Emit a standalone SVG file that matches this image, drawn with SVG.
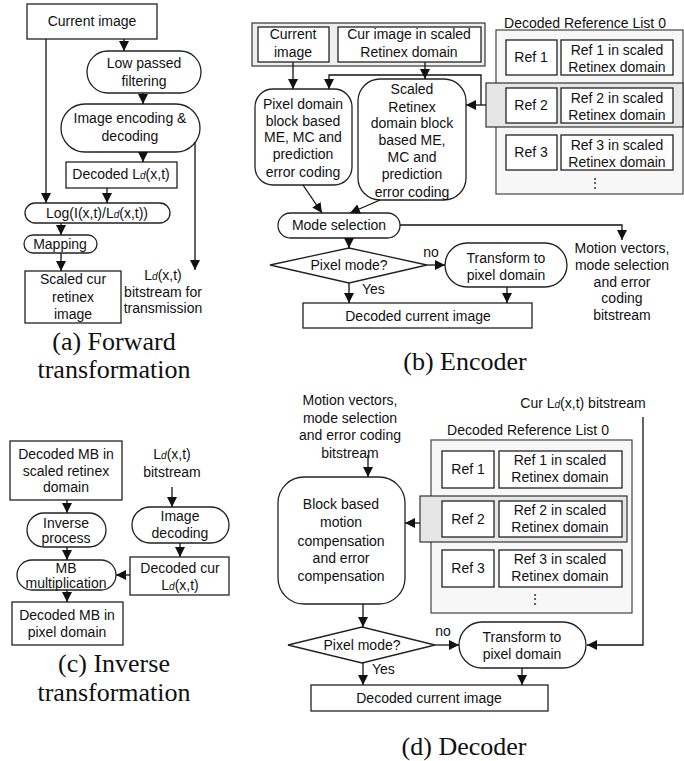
<svg xmlns="http://www.w3.org/2000/svg" width="684" height="761" viewBox="0 0 684 761">
<style>
.n{fill:#fff;stroke:#222;stroke-width:1.3}
.g1{fill:#efefef;stroke:#333;stroke-width:1.2}
.g2{fill:#f7f7f7;stroke:#444;stroke-width:1.2}
.g3{fill:#e6e6e6;stroke:#333;stroke-width:1.2}
text{font-family:"Liberation Sans",Arial,sans-serif;font-size:14px;fill:#111;text-anchor:middle}
text.l{text-anchor:start}
text.cap{font-family:"Liberation Serif","Times New Roman",serif;font-size:26px}
.s{font-size:10px;font-style:italic}
#conn path,#conn line{fill:none;stroke:#111;stroke-width:1.3}
.a{marker-end:url(#ah)}
</style>
<defs>
<marker id="ah" markerWidth="10" markerHeight="10" refX="10" refY="5" orient="auto" markerUnits="userSpaceOnUse">
<path d="M0,0 L10,5 L0,10 z" fill="#111"/>
</marker>
</defs>

<!-- Panel (a) -->
<g id="a-current"><rect class="n" x="27" y="4" width="130" height="35"/><text x="92" y="26">Current image</text></g>
<g id="a-lowpass"><rect class="n" x="87" y="51" width="114" height="42" rx="21"/><text x="144" y="68">Low passed</text><text x="144" y="86">filtering</text></g>
<g id="a-encdec"><rect class="n" x="61" y="104" width="139" height="48" rx="24"/><text x="130" y="123">Image encoding &amp;</text><text x="130" y="141">decoding</text></g>
<g id="a-decoded"><rect class="n" x="66" y="162" width="111" height="26"/><text x="121" y="179">Decoded L<tspan class="s">d</tspan>(x,t)</text></g>
<g id="a-log"><rect class="n" x="25" y="203" width="145" height="20" rx="10"/><text x="97" y="218">Log(I(x,t)/L<tspan class="s">d</tspan>(x,t))</text></g>
<g id="a-mapping"><rect class="n" x="24" y="235" width="73" height="18" rx="9"/><text x="60" y="249">Mapping</text></g>
<g id="a-scaled"><rect class="n" x="25" y="271" width="96" height="52"/><text x="73" y="284">Scaled cur</text><text x="73" y="302">retinex</text><text x="73" y="319">image</text></g>
<g id="a-bitstream"><text x="163" y="280">L<tspan class="s">d</tspan>(x,t)</text><text x="163" y="297">bitstream for</text><text x="163" y="313">transmission</text></g>
<text class="cap" x="114" y="350">(a) Forward</text>
<text class="cap" x="114" y="378">transformation</text>

<!-- Panel (b) -->
<g id="b-input"><rect class="g1" x="252" y="23" width="233" height="43"/>
<rect class="n" x="258" y="27" width="71" height="35"/><text x="293" y="39">Current</text><text x="293" y="57">image</text>
<rect class="n" x="338" y="27" width="143" height="35"/><text x="409" y="39">Cur image in scaled</text><text x="409" y="57">Retinex domain</text></g>
<g id="b-pixel"><rect class="n" x="255" y="89" width="97" height="96" rx="18"/><text x="303" y="109">Pixel domain</text><text x="303" y="126">block based</text><text x="303" y="142">ME, MC and</text><text x="303" y="159">prediction</text><text x="303" y="177">error coding</text></g>
<g id="b-retinex"><rect class="n" x="358" y="79" width="108" height="121" rx="22"/><text x="412" y="94">Scaled</text><text x="412" y="112">Retinex</text><text x="412" y="128">domain block</text><text x="412" y="145">based ME,</text><text x="412" y="162">MC and</text><text x="412" y="179">prediction</text><text x="412" y="197">error coding</text></g>
<g id="b-mode"><rect class="n" x="278" y="213" width="122" height="25" rx="12.5"/><text x="339" y="230">Mode selection</text></g>
<g id="b-pixmode"><polygon class="n" points="270,265 349,248 427,265 349,283"/><text x="349" y="270">Pixel mode?</text></g>
<g id="b-transform"><rect class="n" x="445" y="243" width="122" height="44" rx="22"/><text x="506" y="263">Transform to</text><text x="506" y="280">pixel domain</text></g>
<g id="b-out"><rect class="n" x="303" y="303" width="229" height="25"/><text x="418" y="321">Decoded current image</text></g>
<g id="b-mv"><text x="622" y="253">Motion vectors,</text><text x="622" y="270">mode selection</text><text x="622" y="287">and error</text><text x="622" y="303">coding</text><text x="622" y="320">bitstream</text></g>
<g id="b-reflist"><text x="585" y="28">Decoded Reference List 0</text>
<rect class="g2" x="496" y="30" width="187" height="164"/>
<rect class="n" x="506" y="40" width="51" height="35"/><text x="531" y="62">Ref 1</text>
<rect class="n" x="561" y="40" width="112" height="35"/><text x="617" y="55">Ref 1 in scaled</text><text x="617" y="72">Retinex domain</text>
<rect class="g3" x="486" y="83" width="197" height="44"/>
<rect class="n" x="506" y="88" width="51" height="35"/><text x="531" y="110">Ref 2</text>
<rect class="n" x="561" y="88" width="112" height="35"/><text x="617" y="103">Ref 2 in scaled</text><text x="617" y="120">Retinex domain</text>
<rect class="n" x="506" y="135" width="51" height="35"/><text x="531" y="157">Ref 3</text>
<rect class="n" x="561" y="135" width="112" height="35"/><text x="617" y="150">Ref 3 in scaled</text><text x="617" y="167">Retinex domain</text>
<text x="595" y="187" style="font-size:12px">⋮</text></g>
<text x="431" y="257">no</text>
<text class="l" x="362" y="294">Yes</text>
<text class="cap" x="465" y="370">(b) Encoder</text>

<!-- Panel (c) -->
<g id="c-mbscaled"><rect class="n" x="10" y="441" width="112" height="59"/><text x="66" y="459">Decoded MB in</text><text x="66" y="476">scaled retinex</text><text x="66" y="492">domain</text></g>
<g id="c-inverse"><rect class="n" x="27" y="513" width="79" height="34" rx="17"/><text x="66" y="528">Inverse</text><text x="66" y="543">process</text></g>
<g id="c-mult"><rect class="n" x="17" y="560" width="99" height="30" rx="15"/><text x="66" y="573">MB</text><text x="66" y="588">multiplication</text></g>
<g id="c-mbpixel"><rect class="n" x="12" y="602" width="111" height="43"/><text x="67" y="620">Decoded MB in</text><text x="67" y="637">pixel domain</text></g>
<g id="c-bitstream"><text x="172" y="459">L<tspan class="s">d</tspan>(x,t)</text><text x="172" y="477">bitstream</text></g>
<g id="c-imgdec"><rect class="n" x="132" y="507" width="97" height="36" rx="18"/><text x="180" y="521">Image</text><text x="180" y="538">decoding</text></g>
<g id="c-deccur"><rect class="n" x="130" y="557" width="99" height="38"/><text x="180" y="573">Decoded cur</text><text x="180" y="590">L<tspan class="s">d</tspan>(x,t)</text></g>
<text class="cap" x="114" y="672">(c) Inverse</text>
<text class="cap" x="114" y="701">transformation</text>

<!-- Panel (d) -->
<g id="d-mv"><text x="350" y="405">Motion vectors,</text><text x="350" y="423">mode selection</text><text x="350" y="440">and error coding</text><text x="350" y="458">bitstream</text></g>
<g id="d-mc"><rect class="n" x="278" y="477" width="127" height="127" rx="26"/><text x="341" y="509">Block based</text><text x="341" y="527">motion</text><text x="341" y="546">compensation</text><text x="341" y="563">and error</text><text x="341" y="581">compensation</text></g>
<g id="d-reflist"><text x="528" y="435">Decoded Reference List 0</text>
<rect class="g2" x="431" y="440" width="201" height="173"/>
<rect class="n" x="442" y="451" width="52" height="37"/><text x="468" y="474">Ref 1</text>
<rect class="n" x="499" y="451" width="123" height="37"/><text x="560" y="465">Ref 1 in scaled</text><text x="560" y="482">Retinex domain</text>
<rect class="g3" x="420" y="496" width="207" height="46"/>
<rect class="n" x="442" y="501" width="52" height="36"/><text x="468" y="524">Ref 2</text>
<rect class="n" x="499" y="501" width="123" height="36"/><text x="560" y="515">Ref 2 in scaled</text><text x="560" y="532">Retinex domain</text>
<rect class="n" x="442" y="550" width="52" height="37"/><text x="468" y="573">Ref 3</text>
<rect class="n" x="499" y="550" width="123" height="37"/><text x="560" y="564">Ref 3 in scaled</text><text x="560" y="581">Retinex domain</text>
<text x="535" y="603" style="font-size:12px">⋮</text></g>
<g id="d-cur"><text x="583" y="408">Cur L<tspan class="s">d</tspan>(x,t) bitstream</text></g>
<g id="d-pixmode"><polygon class="n" points="288,645 362,627 435,645 362,663"/><text x="362" y="650">Pixel mode?</text></g>
<g id="d-transform"><rect class="n" x="459" y="622" width="127" height="46" rx="23"/><text x="522" y="642">Transform to</text><text x="522" y="659">pixel domain</text></g>
<g id="d-out"><rect class="n" x="311" y="685" width="237" height="26"/><text x="429" y="703">Decoded current image</text></g>
<text x="443" y="636">no</text>
<text class="l" x="372" y="674">Yes</text>
<text class="cap" x="464" y="755">(d) Decoder</text>

<g id="conn">
<!-- a -->
<path class="a" d="M124,39 V51"/>
<path class="a" d="M143,93 V104"/>
<path class="a" d="M143,152 V162"/>
<path class="a" d="M46,39 V203"/>
<path class="a" d="M107,188 V203"/>
<path class="a" d="M195,142 V270"/>
<path class="a" d="M61,223 V235"/>
<path class="a" d="M61,253 V271"/>
<!-- b -->
<path class="a" d="M293,62 V89"/>
<path class="a" d="M425,62 V79"/>
<path class="a" d="M486,105 H466"/>
<path class="a" d="M481,105 V75 H329 V89"/>
<path class="a" d="M303,185 L322,213"/>
<path class="a" d="M380,200 L350,213"/>
<path class="a" d="M400,225 H622 V240"/>
<path class="a" d="M349,238 V248"/>
<path class="a" d="M427,265 H445"/>
<path class="a" d="M507,287 V303"/>
<path class="a" d="M349,283 V303"/>
<!-- c -->
<path class="a" d="M67,500 V513"/>
<path class="a" d="M67,547 V560"/>
<path class="a" d="M67,590 V602"/>
<path class="a" d="M172,487 V507"/>
<path class="a" d="M180,543 V557"/>
<path class="a" d="M130,575 H116"/>
<!-- d -->
<path class="a" d="M368,455 V477"/>
<path class="a" d="M420,523 H405"/>
<path class="a" d="M643,417 V645 H587"/>
<path class="a" d="M363,604 V627"/>
<path class="a" d="M435,645 H459"/>
<path class="a" d="M522,668 V685"/>
<path class="a" d="M363,663 V685"/>
</g>
</svg>
